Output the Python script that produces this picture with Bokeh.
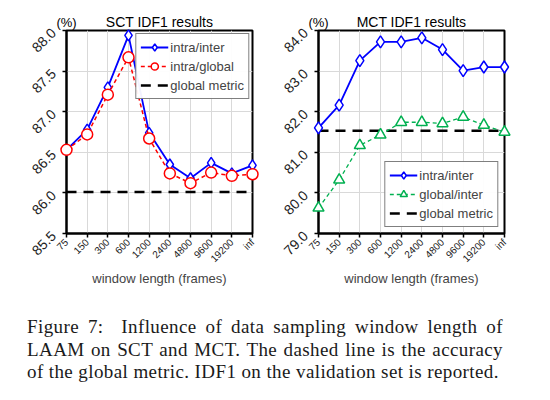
from math import pi

from bokeh.plotting import figure
from bokeh.models import FixedTicker, Range1d, Legend, LegendItem, Div
from bokeh.layouts import row, column
from bokeh.embed import file_html
from bokeh.resources import INLINE

# data
windows = ["75", "150", "300", "600", "1200", "2400", "4800", "9600", "19200", "inf"]

sct_intra_inter = [86.53, 86.78, 87.30, 87.94, 86.74, 86.35, 86.18, 86.37, 86.24, 86.34]
sct_intra_global = [86.53, 86.72, 87.21, 87.67, 86.67, 86.24, 86.12, 86.25, 86.21, 86.23]
sct_global_metric = 86.01

mct_intra_inter = [81.60, 82.16, 83.26, 83.72, 83.72, 83.82, 83.53, 83.01, 83.10, 83.10]
mct_global_inter = [79.63, 80.32, 81.17, 81.43, 81.74, 81.74, 81.71, 81.87, 81.67, 81.50]
mct_global_metric = 81.53

sct_yticks = [85.5, 86.0, 86.5, 87.0, 87.5, 88.0]
mct_yticks = [79.0, 80.0, 81.0, 82.0, 83.0, 84.0]

xs = list(range(len(windows)))
FONT = "Liberation Sans"


def make_fig(title, yticks, width, border_left, border_right, border_bottom):
    p = figure(width=width, height=288, output_backend="svg", toolbar_location=None,
               x_range=Range1d(xs[0], xs[-1]), y_range=Range1d(yticks[0], yticks[-1]),
               min_border_left=border_left, min_border_right=border_right,
               min_border_top=30, min_border_bottom=border_bottom)
    p.outline_line_color = "black"
    p.outline_line_width = 2

    p.xaxis.ticker = FixedTicker(ticks=xs)
    p.xaxis.major_label_overrides = {i: w for i, w in zip(xs, windows)}
    p.xaxis.major_label_orientation = pi / 4
    p.xaxis.major_label_text_font_size = "10px"
    p.xaxis.axis_label = "window length (frames)"
    p.xaxis.axis_label_text_font_size = "13px"
    p.xaxis.axis_label_text_font_style = "normal"
    p.xaxis.axis_label_standoff = 0
    p.xaxis.major_label_standoff = 3

    p.yaxis.ticker = FixedTicker(ticks=yticks)
    p.yaxis.major_label_overrides = {t: f"{t:.1f}" for t in yticks}
    p.yaxis.major_label_orientation = pi / 4
    p.yaxis.major_label_text_font_size = "14px"
    p.yaxis.major_label_standoff = 9

    for ax in (p.xaxis, p.yaxis):
        ax.axis_line_width = 2
        ax.axis_line_color = "black"
        ax.major_tick_in = 0
        ax.major_tick_out = 4
        ax.major_tick_line_width = 1.5
        ax.minor_tick_line_color = None
        ax.major_label_text_font = FONT
        ax.major_label_text_color = "#222222"
        ax.axis_label_text_font = FONT

    p.grid.grid_line_color = "#d9d9d9"
    p.grid.grid_line_width = 1

    # title and "(%)" sit just above the frame
    p.text(x=[(xs[0] + xs[-1]) / 2], y=[yticks[-1]], text=[title], text_align="center",
           text_baseline="bottom", y_offset=-1, text_font={"value": FONT},
           text_font_size="14px", text_color="black", level="overlay")
    p.text(x=[xs[0]], y=[yticks[-1]], text=["(%)"], text_align="center",
           text_baseline="bottom", y_offset=-1, text_font={"value": FONT},
           text_font_size="13px", text_color="black", level="overlay")
    return p


# SCT panel
p1 = make_fig("SCT IDF1 results", sct_yticks, 262, 66, 10, 50)
l1 = p1.line(xs, sct_intra_inter, color="blue", line_width=1.8, level="overlay")
m1 = p1.scatter(xs, sct_intra_inter, marker="diamond", size=11,
                line_color="blue", fill_color="white", line_width=1.5, level="overlay")
l2 = p1.line(xs, sct_intra_global, color="red", line_width=1.5, line_dash="4 3", level="overlay")
m2 = p1.scatter(xs, sct_intra_global, marker="circle", size=11,
                line_color="red", fill_color="white", line_width=1.5, level="overlay")
g1 = p1.line(xs, [sct_global_metric] * len(xs), color="black", line_width=2.5, line_dash="10 7")
lg1 = Legend(items=[LegendItem(label="intra/inter", renderers=[l1, m1]),
                    LegendItem(label="intra/global", renderers=[l2, m2]),
                    LegendItem(label="global metric", renderers=[g1])],
             location="top_right", margin=3)
p1.add_layout(lg1)

# MCT panel
p2 = make_fig("MCT IDF1 results", mct_yticks, 272, 56, 30, 52)
l3 = p2.line(xs, mct_intra_inter, color="blue", line_width=1.8, level="overlay")
m3 = p2.scatter(xs, mct_intra_inter, marker="diamond", size=12,
                line_color="blue", fill_color="white", line_width=1.5, level="overlay")
l4 = p2.line(xs, mct_global_inter, color="#00b050", line_width=1.3, line_dash="4 3", level="overlay")
m4 = p2.scatter(xs, mct_global_inter, marker="triangle", size=11,
                line_color="#00b050", fill_color="white", line_width=1.5, level="overlay")
g2 = p2.line(xs, [mct_global_metric] * len(xs), color="black", line_width=2.5, line_dash="10 7")
lg2 = Legend(items=[LegendItem(label="intra/inter", renderers=[l3, m3]),
                    LegendItem(label="global/inter", renderers=[l4, m4]),
                    LegendItem(label="global metric", renderers=[g2])],
             location="bottom_right", margin=6)
p2.add_layout(lg2)

for lg in (lg1, lg2):
    lg.border_line_color = "black"
    lg.border_line_width = 1.5
    lg.label_text_font = FONT
    lg.label_text_font_size = "13px"
    lg.glyph_width = 28
    lg.glyph_height = 18
    lg.label_standoff = 2
    lg.spacing = 1
    lg.padding = 4
    lg.label_height = 18

caption = Div(width=534, height=92, text=(
    '<div style="font-family:\'Liberation Serif\'; font-size:19px; letter-spacing:0.4px; '
    'line-height:22.7px; text-align:justify; width:476px; margin-left:22px; '
    'margin-top:23px; color:#1a1a1a;">'
    'Figure 7:&nbsp; Influence of data sampling window length of '
    'LAAM on SCT and MCT. The dashed line is the accuracy '
    'of the global metric. IDF1 on the validation set is reported.</div>'))

layout = column(row(p1, p2), caption)

open("out.html", "w").write(file_html(layout, INLINE))
